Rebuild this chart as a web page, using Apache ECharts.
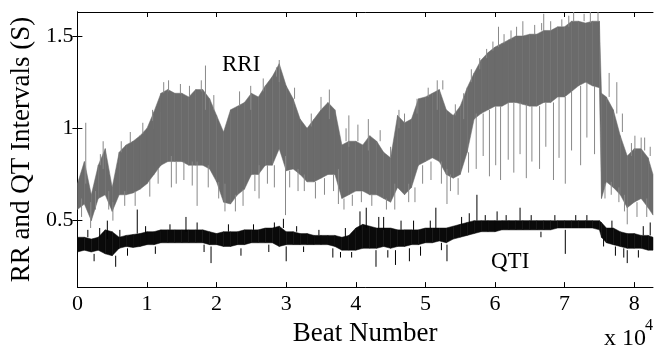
<!DOCTYPE html>
<html><head><meta charset="utf-8">
<script src="https://cdn.jsdelivr.net/npm/echarts@6/dist/echarts.min.js"></script>
<style>html,body{margin:0;padding:0;background:#fff}#c{width:662px;height:352px}</style>
</head><body><div id="c"></div>
<script>
// Sample positions (beat number) for envelope readings
var beats = [0,1000,2000,3000,4000,5000,6000,7000,8000,9000,10000,11000,12000,13000,14000,15000,16000,17000,18000,19000,20000,
 21000,22000,23000,24000,25000,26000,27000,28000,29000,30000,31000,32000,33000,34000,35000,36000,37000,38000,39000,40000,
 41000,42000,43000,44000,45000,46000,47000,48000,49000,50000,51000,52000,53000,54000,55000,56000,57000,58000,59000,60000,
 61000,62000,63000,64000,65000,66000,67000,68000,69000,70000,71000,72000,73000,74000,75000,75300,76000,77000,78000,79000,80000,81000,82000,82700];
// RR interval dense band (upper / lower edge, seconds)
var rrHigh = [0.70,0.82,0.64,0.80,0.89,0.68,0.87,0.91,0.93,0.96,1.00,1.09,1.19,1.21,1.19,1.19,1.17,1.21,1.21,1.16,1.07,
 0.98,1.10,1.12,1.14,1.19,1.17,1.23,1.28,1.35,1.23,1.16,1.05,1.00,1.05,1.10,1.14,1.10,0.91,0.93,0.93,
 0.91,0.96,0.93,0.87,0.84,1.07,1.03,1.05,1.16,1.17,1.19,1.21,1.10,1.07,1.12,1.22,1.30,1.37,1.41,1.44,
 1.46,1.48,1.50,1.50,1.51,1.51,1.53,1.53,1.55,1.55,1.58,1.58,1.57,1.58,1.58,1.19,1.17,1.10,0.96,0.85,0.89,0.89,0.84,0.75];
var rrLow = [0.56,0.59,0.50,0.62,0.64,0.55,0.64,0.64,0.65,0.67,0.70,0.75,0.80,0.82,0.82,0.82,0.80,0.80,0.80,0.78,0.71,
 0.60,0.59,0.64,0.67,0.75,0.75,0.80,0.80,0.89,0.77,0.78,0.75,0.71,0.71,0.73,0.75,0.75,0.62,0.64,0.66,
 0.66,0.64,0.64,0.62,0.60,0.68,0.64,0.68,0.80,0.82,0.84,0.82,0.75,0.73,0.75,0.87,1.05,1.08,1.10,1.12,
 1.12,1.14,1.14,1.13,1.12,1.12,1.14,1.14,1.17,1.17,1.20,1.23,1.25,1.23,1.22,0.62,0.71,0.68,0.64,0.57,0.60,0.62,0.57,0.53];
// QT interval band
var qtHigh = [0.41,0.41,0.40,0.41,0.45,0.44,0.41,0.42,0.425,0.43,0.44,0.44,0.45,0.45,0.45,0.45,0.45,0.45,0.45,0.44,0.43,
 0.44,0.44,0.44,0.45,0.45,0.45,0.46,0.46,0.47,0.44,0.44,0.43,0.43,0.42,0.42,0.42,0.42,0.41,0.42,0.46,
 0.48,0.47,0.46,0.46,0.46,0.45,0.45,0.45,0.45,0.46,0.46,0.46,0.46,0.47,0.48,0.49,0.50,0.50,0.50,0.50,
 0.50,0.50,0.50,0.50,0.50,0.50,0.50,0.50,0.50,0.50,0.50,0.50,0.50,0.50,0.50,0.49,0.46,0.46,0.44,0.43,0.43,0.42,0.42,0.41];
var qtLow = [0.33,0.34,0.33,0.34,0.32,0.31,0.35,0.36,0.355,0.36,0.37,0.37,0.38,0.38,0.38,0.38,0.38,0.38,0.38,0.37,0.37,
 0.36,0.36,0.37,0.37,0.38,0.38,0.38,0.38,0.36,0.37,0.37,0.37,0.37,0.37,0.37,0.37,0.36,0.34,0.34,0.34,
 0.35,0.35,0.35,0.36,0.35,0.36,0.36,0.37,0.37,0.38,0.38,0.39,0.38,0.40,0.41,0.42,0.43,0.44,0.44,0.44,
 0.45,0.45,0.45,0.45,0.45,0.45,0.45,0.45,0.46,0.46,0.46,0.46,0.46,0.46,0.45,0.41,0.38,0.37,0.36,0.35,0.35,0.35,0.34,0.34];
// Isolated spikes: beat, from, to
var rrSpikeBeat = [1200,1900,3700,5100,13500,16500,17200,18400,21200,24900,26100,29000,29900,36200,37500,39000,41800,45600,46200,47600,51700,53100,55500,
 57300,58300,59200,60100,60800,61900,62700,63600,64500,65300,66400,67300,68400,69200,70100,71000,72300,73200,74300,
 60500,64000,67000,71300,73700,76400,77500,79000,80100,81500,
 600,2600,3300,4500,6300,6800,7600,8300,9400,10400,10800,11600,12400,13100,14200,14800,15300,16100,17800,18800,19600,20300,
 22700,23300,23800,25500,26700,27300,28300,28600,30500,31200,31700,32600,33600,34200,35000,35500,36800,38300,38600,39500,
 40300,40800,42300,43500,44400,45000,47000,48500,48800,49600,50400,50800,52300,52500,53600,54300,54700,56200,56600,57800,
 58800,59700,61300,62300,63100,65700,66700,68000,69600,70600,72800,74800,75800,76700,77800,78300,78600,79600,80400,81000,81800,82300];
var rrSpikeFrom = [0.70,0.46,0.78,0.50,0.68,0.69,0.58,1.10,0.55,1.10,0.62,1.25,0.53,1.05,0.59,0.90,0.88,0.56,1.00,0.60,1.10,0.59,1.05,
 0.78,0.85,0.74,0.80,0.72,0.83,0.76,0.86,0.73,0.82,0.78,0.90,0.72,0.84,0.70,0.88,0.80,0.95,0.86,
 1.44,1.50,1.53,1.58,1.57,1.17,1.08,0.48,0.88,0.88,
 0.52,0.56,0.80,0.56,0.87,0.58,0.92,0.58,0.97,0.63,1.04,0.70,1.19,1.20,0.70,1.19,0.72,1.17,1.20,0.68,1.10,0.62,
 0.55,1.12,0.58,0.66,1.20,0.70,0.68,1.28,0.68,1.16,0.66,0.66,1.01,0.62,1.10,0.64,0.66,0.56,0.93,0.58,
 0.93,0.60,0.58,0.93,0.56,0.84,1.03,0.60,1.08,0.70,1.17,0.72,0.70,1.21,0.66,1.07,0.64,0.76,1.25,1.32,
 1.38,1.42,1.46,1.48,1.50,1.51,1.53,1.53,1.55,1.55,1.58,1.58,0.62,0.64,0.60,0.98,0.55,0.85,0.52,0.89,0.52,0.85];
var rrSpikeTo = [1.03,0.60,0.93,0.60,0.85,0.82,0.82,1.34,0.70,1.23,0.80,1.37,0.85,1.21,0.78,1.07,1.05,0.70,1.10,0.70,1.26,0.78,1.19,
 1.08,1.08,1.10,1.12,1.12,1.14,1.14,1.14,1.13,1.12,1.12,1.14,1.14,1.17,1.17,1.20,1.23,1.25,1.23,
 1.55,1.58,1.62,1.63,1.63,1.30,1.25,0.58,0.96,0.95,
 0.62,0.66,0.86,0.66,0.93,0.66,0.98,0.66,1.03,0.72,1.10,0.78,1.25,1.26,0.82,1.24,0.82,1.23,1.26,0.80,1.18,0.71,
 0.64,1.20,0.67,0.75,1.27,0.80,0.80,1.33,0.77,1.22,0.78,0.75,1.08,0.71,1.17,0.73,0.75,0.62,1.00,0.64,
 1.02,0.66,0.64,0.99,0.62,0.90,1.08,0.68,1.16,0.80,1.22,0.82,0.82,1.26,0.75,1.13,0.73,0.87,1.32,1.38,
 1.43,1.47,1.51,1.53,1.55,1.56,1.57,1.58,1.59,1.61,1.62,1.63,0.70,0.71,0.68,1.08,0.64,0.92,0.60,0.95,0.62,0.90];
var qtSpikeBeat = [4300,5500,8600,15600,19200,29600,30000,36700,40600,41500,42900,44000,45700,47700,51500,53100,57400,60300,63600,70100,79000,82300,
 1500,2400,3200,6100,7200,9800,11200,13300,17200,18200,21700,23500,25300,27500,28300,31500,32500,34700,37800,38500,39400,
 43300,44600,46500,48300,49300,50700,52300,55200,56300,58600,61600,65200,66600,68600,71600,73200,75600,76800,77300,78500,80600,81300];
var qtSpikeFrom = [0.40,0.25,0.43,0.44,0.27,0.46,0.28,0.30,0.45,0.46,0.25,0.45,0.26,0.28,0.46,0.28,0.50,0.50,0.50,0.32,0.27,0.42,
 0.41,0.28,0.41,0.41,0.31,0.43,0.32,0.45,0.45,0.33,0.44,0.31,0.45,0.33,0.46,0.44,0.33,0.42,0.30,0.41,0.30,
 0.46,0.30,0.45,0.45,0.31,0.46,0.34,0.48,0.49,0.50,0.50,0.50,0.41,0.50,0.50,0.50,0.36,0.46,0.31,0.30,0.30,0.42];
var qtSpikeTo = [0.50,0.31,0.56,0.52,0.36,0.51,0.36,0.35,0.55,0.57,0.34,0.52,0.34,0.35,0.57,0.37,0.64,0.55,0.57,0.45,0.34,0.49,
 0.45,0.32,0.46,0.45,0.35,0.47,0.36,0.48,0.49,0.37,0.48,0.35,0.48,0.37,0.49,0.47,0.36,0.45,0.33,0.46,0.33,
 0.52,0.34,0.50,0.50,0.36,0.50,0.38,0.52,0.54,0.53,0.53,0.53,0.44,0.53,0.53,0.53,0.40,0.50,0.36,0.35,0.34,0.47];
var xTicks = [0,10000,20000,30000,40000,50000,60000,70000,80000];
var yTicks = [0.5,1,1.5];

var FONT = 'Liberation Serif';
function bandData(lo, hi){
  var d=[];
  for (var i=0;i<beats.length-1;i++) d.push([beats[i],lo[i],hi[i],beats[i+1],lo[i+1],hi[i+1]]);
  return d;
}
function spikeData(b,f,t){ return b.map(function(v,i){return [v,f[i],t[i]];}); }
function bandRender(color){
  return function(params, api){
    var a=api.coord([api.value(0),api.value(1)]), b=api.coord([api.value(0),api.value(2)]);
    var c=api.coord([api.value(3),api.value(5)]), d=api.coord([api.value(3),api.value(4)]);
    return {type:'polygon', shape:{points:[a,b,c,d]}, style:{fill:color, stroke:color, lineWidth:0.5}};
  };
}
function spikeRender(color){
  return function(params, api){
    var a=api.coord([api.value(0),api.value(1)]), b=api.coord([api.value(0),api.value(2)]);
    return {type:'line', shape:{x1:a[0],y1:a[1],x2:b[0],y2:b[1]}, style:{stroke:color, lineWidth:1}};
  };
}
var axisCommon = {axisLine:{show:true,lineStyle:{color:'#000',width:1}}, splitLine:{show:false}};
var chart = echarts.init(document.getElementById('c'), null, {renderer:'canvas'});
chart.setOption({
  animation:false,
  backgroundColor:'#fff',
  textStyle:{fontFamily:FONT},
  grid:{left:76,right:9,top:12,bottom:62,containLabel:false},
  xAxis:[
    Object.assign({type:'value',position:'bottom',min:0,max:82700,
      axisTick:{inside:true,length:5,lineStyle:{color:'#000'},customValues:xTicks},
      axisLabel:{customValues:xTicks,formatter:function(v){return String(v/10000);},fontFamily:FONT,fontSize:22,color:'#000',margin:6},
      name:'Beat Number',nameLocation:'middle',nameGap:28,nameTextStyle:{fontFamily:FONT,fontSize:27,color:'#000'}},axisCommon),
    Object.assign({type:'value',position:'top',min:0,max:82700,
      axisTick:{inside:true,length:5,lineStyle:{color:'#000'},customValues:xTicks},
      axisLabel:{show:false}},axisCommon)
  ],
  yAxis:[
    Object.assign({type:'value',position:'left',min:0.14,max:1.63,
      axisTick:{inside:true,length:5,lineStyle:{color:'#000'},customValues:yTicks},
      axisLabel:{customValues:yTicks,fontFamily:FONT,fontSize:22,color:'#000',margin:4},
      name:'RR and QT Intervals (S)',nameLocation:'middle',nameGap:34,nameTextStyle:{fontFamily:FONT,fontSize:27,color:'#000'}},axisCommon),
    Object.assign({type:'value',position:'right',min:0.14,max:1.63,
      axisTick:{inside:true,length:5,lineStyle:{color:'#000'},customValues:yTicks},
      axisLabel:{show:false}},axisCommon)
  ],
  series:[
    {type:'custom',name:'RRI band',renderItem:bandRender('#6b6b6b'),data:bandData(rrLow,rrHigh),encode:{x:[0,3],y:[1,2,4,5]},clip:true},
    {type:'custom',name:'RRI spikes',renderItem:spikeRender('#888888'),data:spikeData(rrSpikeBeat,rrSpikeFrom,rrSpikeTo),encode:{x:0,y:[1,2]},clip:true},
    {type:'custom',name:'QTI band',renderItem:bandRender('#0a0a0a'),data:bandData(qtLow,qtHigh),encode:{x:[0,3],y:[1,2,4,5]},clip:true},
    {type:'custom',name:'QTI spikes',renderItem:spikeRender('#000000'),data:spikeData(qtSpikeBeat,qtSpikeFrom,qtSpikeTo),encode:{x:0,y:[1,2]},clip:true}
  ],
  graphic:[
    {type:'text',left:222,top:53,style:{text:'RRI',fontFamily:FONT,fontSize:23,fill:'#000'}},
    {type:'text',left:491,top:250,style:{text:'QTI',fontFamily:FONT,fontSize:23,fill:'#000'}},
    {type:'text',left:604,top:327,style:{text:'x 10',fontFamily:FONT,fontSize:24,fill:'#000'}},
    {type:'text',left:645,top:318,style:{text:'4',fontFamily:FONT,fontSize:16,fill:'#000'}}
  ]
});
</script></body></html>
